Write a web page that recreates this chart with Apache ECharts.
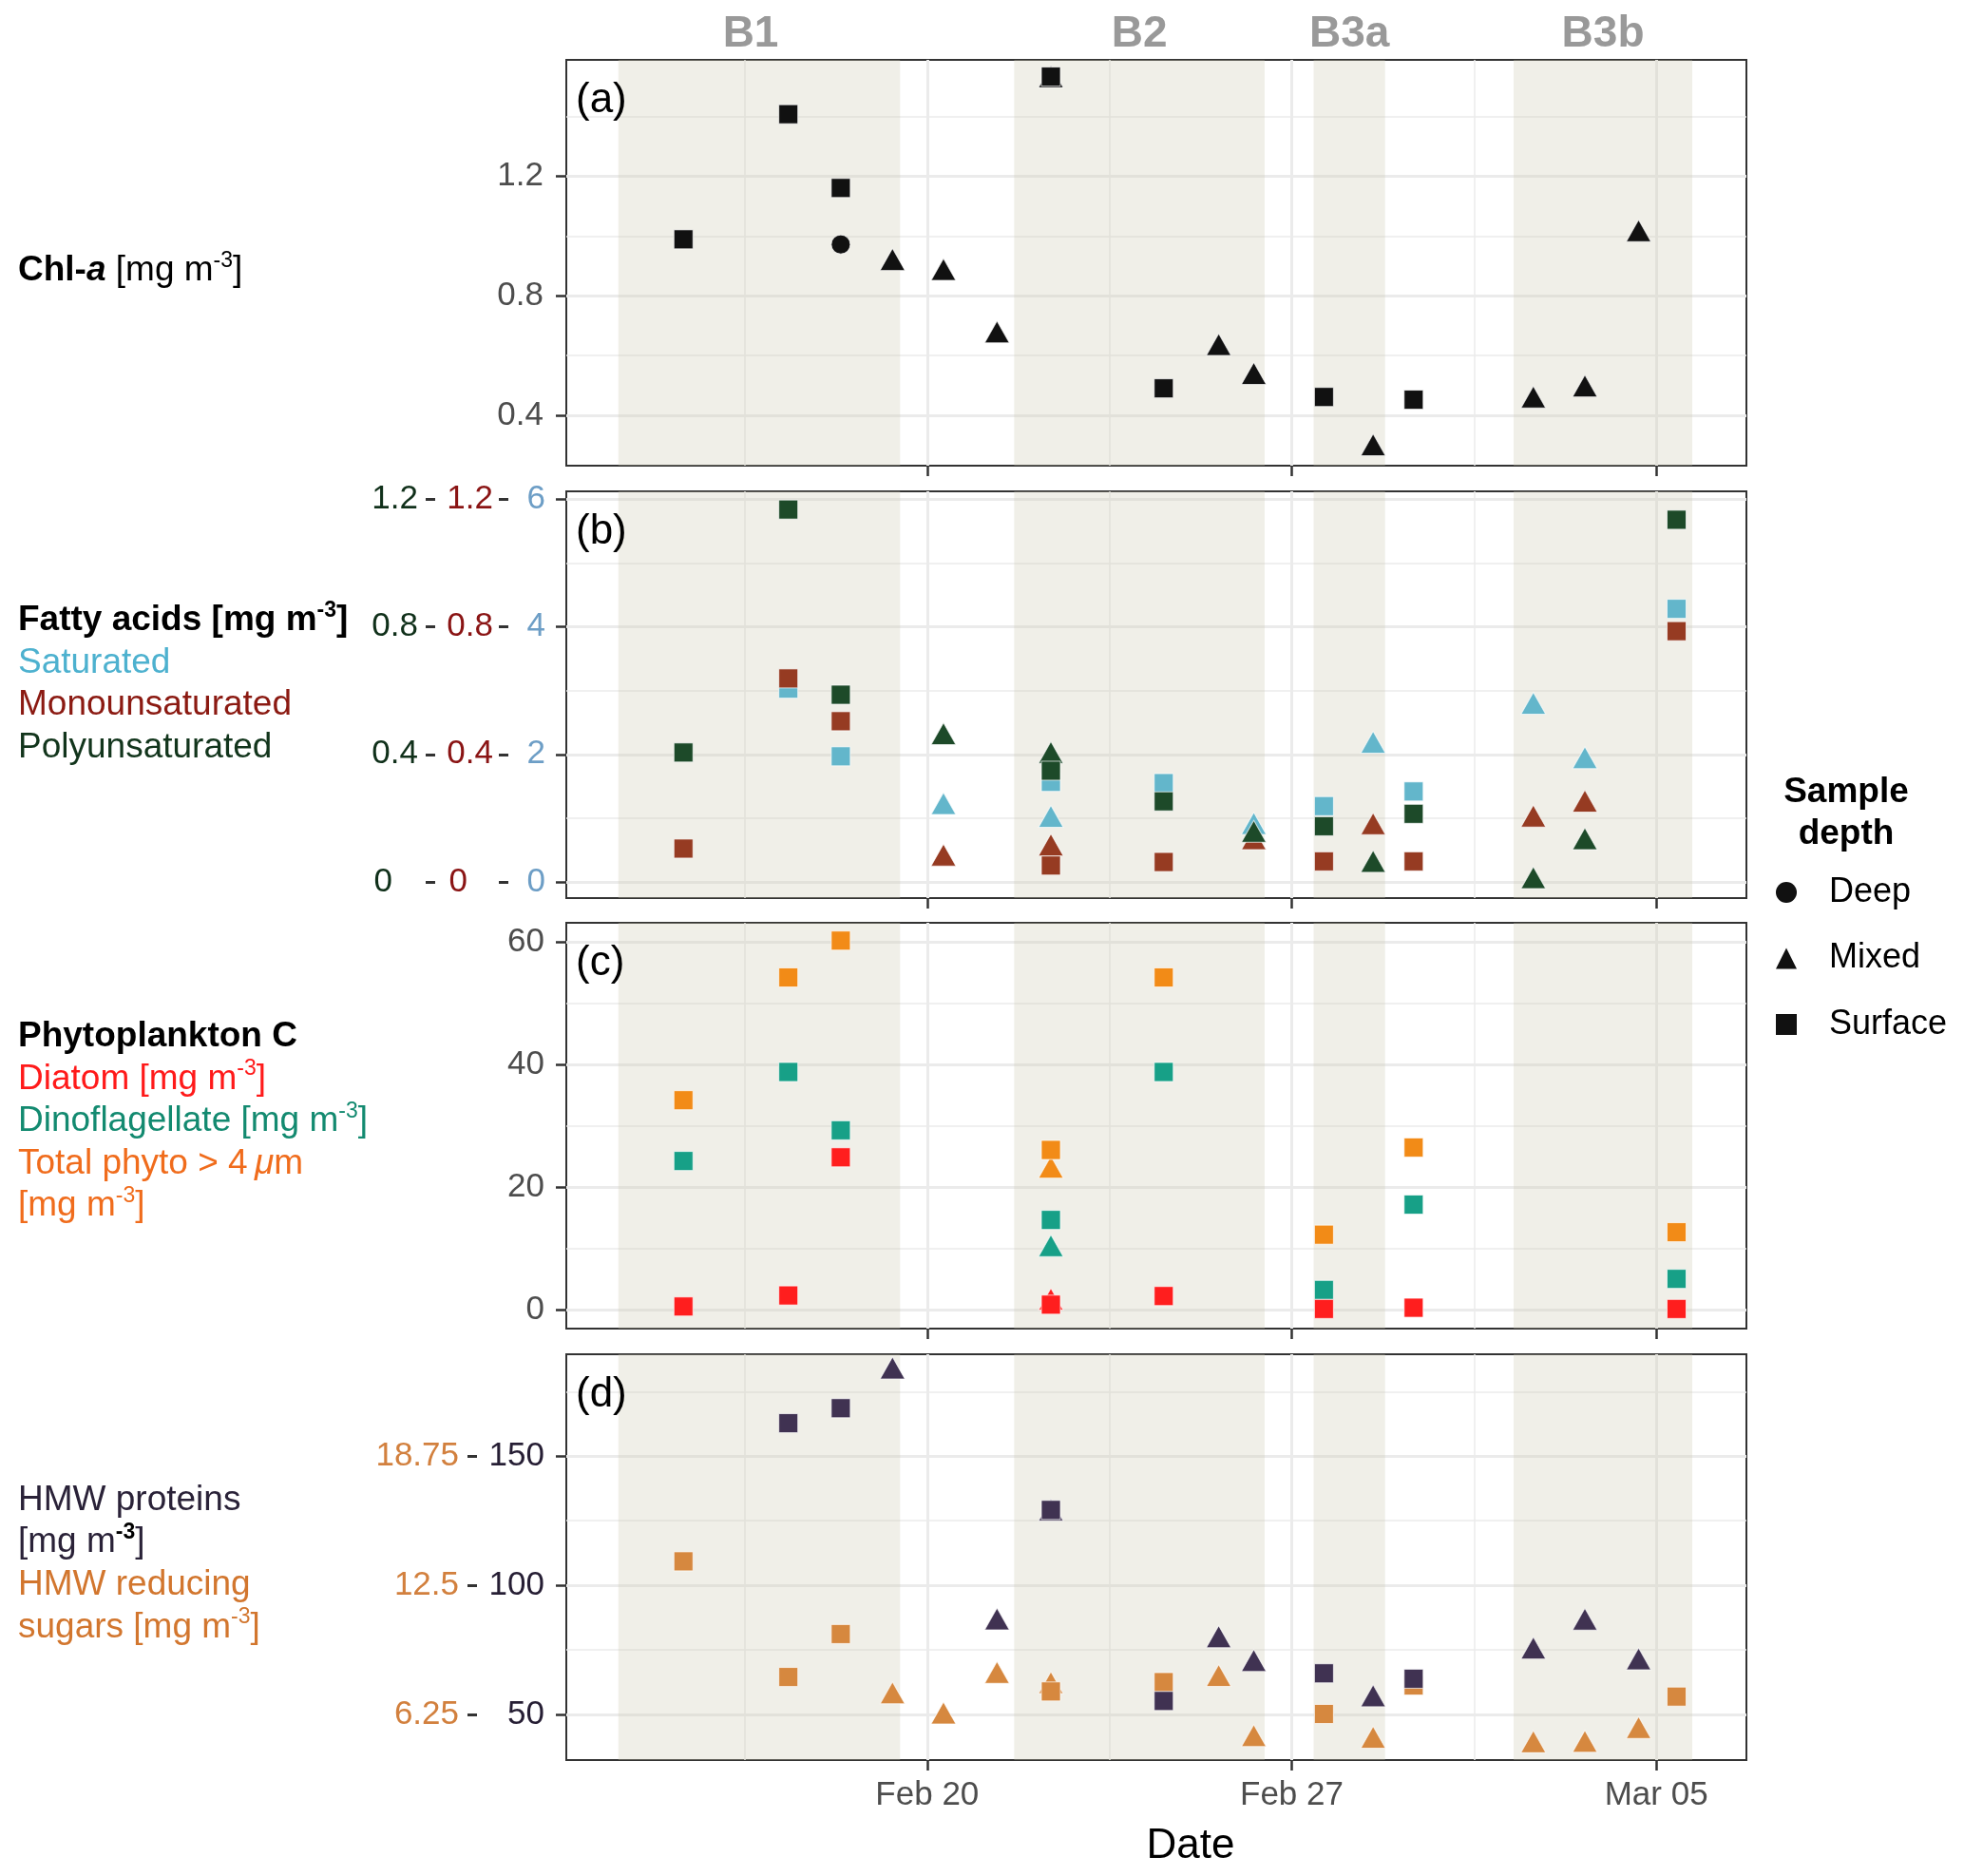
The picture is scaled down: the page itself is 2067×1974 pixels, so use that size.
<!DOCTYPE html>
<html><head><meta charset="utf-8">
<script src="https://cdn.jsdelivr.net/npm/echarts@6/dist/echarts.min.js"></script>
<style>html,body{margin:0;padding:0;background:#fff}#c{width:2067px;height:1974px}</style>
</head><body><div id="c"></div>
<script>
// ---------------- data ----------------
const surfaceDates = ['2020-02-15T07:40Z','2020-02-17T08:00Z','2020-02-18T08:10Z','2020-02-22T09:00Z','2020-02-24T13:00Z','2020-02-27T14:50Z','2020-02-29T08:10Z','2020-03-05T09:20Z'];
const mixedDates = ['2020-02-19T08:00Z','2020-02-20T07:30Z','2020-02-21T08:10Z','2020-02-22T09:00Z','2020-02-25T14:20Z','2020-02-26T06:30Z','2020-02-28T13:30Z','2020-03-02T15:20Z','2020-03-03T15:05Z','2020-03-04T15:50Z'];
const deepDates = ['2020-02-18T08:10Z'];

const chlaSurface = [0.989,1.408,1.161,1.534,0.490,0.461,0.452,null];
const chlaMixed = [0.922,0.888,0.679,1.534,0.637,0.540,0.301,0.461,0.498,1.018];
const chlaDeep = [0.972];

const sfaSurface = [null,3.03,1.97,1.57,1.55,1.19,1.42,4.28];
const sfaMixed = [null,1.23,null,1.03,null,0.92,2.19,2.80,1.95,null];
const mufaSurface = [0.105,0.638,0.504,0.052,0.063,0.065,0.065,0.786];
const mufaMixed = [null,0.085,null,0.117,null,0.136,0.183,0.207,0.254,null];
const pufaSurface = [0.406,1.167,0.587,0.349,0.253,0.175,0.214,1.135];
const pufaMixed = [null,0.465,null,0.406,null,0.159,0.065,0.014,0.136,null];

const diatomSurface = [0.6,2.4,24.9,0.9,2.3,0.2,0.4,0.2];
const diatomMixed = [null,null,null,1.8,null,null,null,null,null,null];
const dinoSurface = [24.3,38.8,29.3,14.7,38.8,3.3,17.2,5.1];
const dinoMixed = [null,null,null,10.5,null,null,null,null,null,null];
const totalSurface = [34.2,54.2,60.2,26.1,54.2,12.3,26.5,12.7];
const totalMixed = [null,null,null,23.3,null,null,null,null,null,null];

const proteinSurface = [null,162.8,168.6,129.2,55.2,65.9,63.8,null];
const proteinMixed = [184.2,null,87.0,129.2,80.1,70.9,57.2,75.7,86.9,71.5];
const sugarSurface = [13.66,8.06,10.14,7.36,7.81,6.27,7.65,7.11];
const sugarMixed = [7.29,6.32,8.28,7.79,8.13,5.22,5.14,4.93,4.95,5.61];

const periodNames = ['B1','B2','B3a','B3b'];
const periodStart = ['2020-02-14T01:40Z','2020-02-21T16:05Z','2020-02-27T10:05Z','2020-03-02T06:15Z'];
const periodEnd = ['2020-02-19T11:30Z','2020-02-26T11:30Z','2020-02-28T19:00Z','2020-03-05T16:35Z'];

const dateTicks = ['2020-02-20T00:00Z','2020-02-27T00:00Z','2020-03-05T00:00Z'];
const dateMinor = ['2020-02-16T12:00Z','2020-02-23T12:00Z','2020-03-01T12:00Z'];
const chlaTicks = [0.4,0.8,1.2];
const chlaMinor = [0.6,1.0,1.4];
const faTicks = [0,0.4,0.8,1.2];
const sfaTicks = [0,2,4,6];
const sfaMinor = [1,3,5];
const phytoTicks = [0,20,40,60];
const phytoMinor = [10,30,50];
const proteinTicks = [50,100,150];
const proteinMinor = [75,125,175];
const sugarTicks = [6.25,12.5,18.75];

// ---------------- helpers ----------------
const FONT = '"Liberation Sans", Arial, Helvetica, sans-serif';
const T0 = Date.UTC(2020,1,20);
const day = s => (Date.parse(s) - T0) / 864e5;
const MON = ['Jan','Feb','Mar','Apr','May','Jun','Jul','Aug','Sep','Oct','Nov','Dec'];
const fmtDate = v => { const d = new Date(T0 + Math.round(v*864e5)); return MON[d.getUTCMonth()] + ' ' + String(d.getUTCDate()).padStart(2,'0'); };
const fmtNum = v => String(Math.round(v*100)/100);
const pts = (dates, vals) => { const o=[]; dates.forEach((d,i)=>{ if (vals[i]!=null) o.push([day(d), vals[i]]); }); return o; };

const X_MIN = -6.93, X_MAX = 15.73;
const GRID_TOPS = [63, 517, 971, 1425];
const GRID_H = [427, 428, 427, 427];
const TICK_COLOR = '#333333';
const GRID_COLOR = '#EBEBEB';

function xAx(g, minor, showLabel) {
  const vals = (minor ? dateMinor : dateTicks).map(day);
  const ax = {
    type:'value', gridIndex:g, min:X_MIN, max:X_MAX,
    axisLine:{show:false, onZero:false},
    axisTick:{show:!minor, length:11, customValues:vals, lineStyle:{color:TICK_COLOR, width:2.5}},
    axisLabel:{show:!minor && showLabel, customValues:vals, formatter:fmtDate, fontSize:35, fontFamily:FONT, color:'#4D4D4D', margin:20},
    splitLine:{show:true, lineStyle:{color:GRID_COLOR, width:minor?1.5:3}}
  };
  if (showLabel && !minor) {
    ax.name = 'Date'; ax.nameLocation = 'middle'; ax.nameGap = 69;
    ax.nameTextStyle = {fontSize:44, fontFamily:FONT, color:'#000', padding:[0,0,0,72]};
  }
  return ax;
}
function yAx(g, min, max, ticks, o) {
  o = o || {};
  return {
    type:'value', gridIndex:g, min, max, position:'left', offset:o.offset||0,
    axisLine:{show:false, onZero:false},
    axisTick:{show:!o.minor, length:o.tickLen||11, customValues:ticks, lineStyle:{color:TICK_COLOR, width:o.tickW||2.5}},
    axisLabel:{show:!o.minor, customValues:ticks, margin:o.margin||24, fontSize:35, fontFamily:FONT, color:o.color||'#4D4D4D', formatter:o.formatter||fmtNum, rich:o.rich},
    splitLine:{show:!!o.split, lineStyle:{color:GRID_COLOR, width:o.minor?1.5:3}}
  };
}
function padZero(color) {
  return {
    color,
    formatter: v => Math.abs(v) < 1e-9 ? '{z|0}' : '{n|' + fmtNum(v) + '}',
    rich: {
      n:{color, fontSize:35, fontFamily:FONT},
      z:{color, fontSize:35, fontFamily:FONT, padding:[0,27,0,0]}
    }
  };
}

const SIZES = {rect:[20,20], triangle:[26,23], circle:[20,20]};
function sc(name, xi, yi, sym, color, data) {
  return {type:'scatter', name, xAxisIndex:xi, yAxisIndex:yi, symbol:sym, symbolSize:SIZES[sym],
    itemStyle:{color, borderColor:'rgba(255,255,255,0.7)', borderWidth:1, opacity:1},
    data, z:3, silent:true, emphasis:{disabled:true}};
}
function shade(g, xi, yi, withLabels) {
  return {type:'scatter', name:'periods'+g, xAxisIndex:xi, yAxisIndex:yi, data:[], silent:true, z:1,
    markArea:{silent:true, z:1, itemStyle:{color:'rgba(205,202,178,0.3)', borderWidth:0},
      label:{show:withLabels, position:'top', distance:4, fontSize:46, lineHeight:46, fontWeight:'bold', color:'#999999', fontFamily:FONT},
      data: periodNames.map((n,i)=>[
        {name:n, xAxis:day(periodStart[i]), label: i===0 ? {offset:[-9,0]} : undefined},
        {xAxis:day(periodEnd[i])}])}};
}

// ---------------- axes ----------------
const xAxes = [];
for (let g=0; g<4; g++) { xAxes.push(xAx(g,false,g===3)); xAxes.push(xAx(g,true,false)); }

const C_PUFA_AX = '#10301A', C_MUFA_AX = '#8A1414', C_SFA_AX = '#6D9EC6';
const C_PROT_AX = '#261E34', C_SUG_AX = '#D2803E';
const yAxes = [
  // panel a
  yAx(0, 0.231, 1.590, chlaTicks, {split:true}),
  yAx(0, 0.231, 1.590, chlaMinor, {split:true, minor:true}),
  // panel b
  yAx(1, -0.25, 6.12, sfaTicks, {split:true, color:C_SFA_AX, margin:22}),
  yAx(1, -0.25, 6.12, sfaMinor, {split:true, minor:true}),
  yAx(1, -0.05, 1.224, faTicks, Object.assign({offset:61, tickLen:10, tickW:3, margin:16}, padZero(C_MUFA_AX))),
  yAx(1, -0.05, 1.224, faTicks, Object.assign({offset:138, tickLen:10, tickW:3, margin:18}, padZero(C_PUFA_AX))),
  // panel c
  yAx(2, -3.0, 63.1, phytoTicks, {split:true, margin:23}),
  yAx(2, -3.0, 63.1, phytoMinor, {split:true, minor:true}),
  // panel d
  yAx(3, 32.3, 189.5, proteinTicks, {split:true, color:C_PROT_AX, margin:23}),
  yAx(3, 32.3, 189.5, proteinMinor, {split:true, minor:true}),
  yAx(3, 32.3/8, 189.5/8, sugarTicks, {offset:94, tickLen:10, tickW:3, margin:19, color:C_SUG_AX})
];

// ---------------- series ----------------
const C_CHLA='#111111', C_SFA='#63B6CB', C_MUFA='#963B22', C_PUFA='#1D4A29';
const C_DIA='#FF1E1E', C_DINO='#17A087', C_TOT='#F28B17';
const C_PROT='#403252', C_SUG='#D6883F';
const series = [
  shade(0,0,0,true),
  sc('Mixed',0,0,'triangle',C_CHLA,pts(mixedDates,chlaMixed)),
  sc('Surface',0,0,'rect',C_CHLA,pts(surfaceDates,chlaSurface)),
  sc('Deep',0,0,'circle',C_CHLA,pts(deepDates,chlaDeep)),

  shade(1,2,2,false),
  sc('Saturated mixed',2,2,'triangle',C_SFA,pts(mixedDates,sfaMixed)),
  sc('Saturated surface',2,2,'rect',C_SFA,pts(surfaceDates,sfaSurface)),
  sc('Monounsaturated mixed',2,4,'triangle',C_MUFA,pts(mixedDates,mufaMixed)),
  sc('Monounsaturated surface',2,4,'rect',C_MUFA,pts(surfaceDates,mufaSurface)),
  sc('Polyunsaturated mixed',2,5,'triangle',C_PUFA,pts(mixedDates,pufaMixed)),
  sc('Polyunsaturated surface',2,5,'rect',C_PUFA,pts(surfaceDates,pufaSurface)),

  shade(2,4,6,false),
  sc('Total mixed',4,6,'triangle',C_TOT,pts(mixedDates,totalMixed)),
  sc('Total surface',4,6,'rect',C_TOT,pts(surfaceDates,totalSurface)),
  sc('Dino mixed',4,6,'triangle',C_DINO,pts(mixedDates,dinoMixed)),
  sc('Dino surface',4,6,'rect',C_DINO,pts(surfaceDates,dinoSurface)),
  sc('Diatom mixed',4,6,'triangle',C_DIA,pts(mixedDates,diatomMixed)),
  sc('Diatom surface',4,6,'rect',C_DIA,pts(surfaceDates,diatomSurface)),

  shade(3,6,8,false),
  sc('Sugar mixed',6,10,'triangle',C_SUG,pts(mixedDates,sugarMixed)),
  sc('Sugar surface',6,10,'rect',C_SUG,pts(surfaceDates,sugarSurface)),
  sc('Protein mixed',6,8,'triangle',C_PROT,pts(mixedDates,proteinMixed)),
  sc('Protein surface',6,8,'rect',C_PROT,pts(surfaceDates,proteinSurface))
];

// ---------------- texts ----------------
const LH = 44.5;
const tok = (color, extra) => Object.assign({color, fontSize:37, lineHeight:LH, fontFamily:FONT, fontWeight:'normal', fontStyle:'normal'}, extra||{});
const sup = (color, extra) => Object.assign({color, fontSize:23, lineHeight:34, verticalAlign:'top', fontFamily:FONT, fontWeight:'normal', fontStyle:'normal'}, extra||{});
const baseStyle = (lh) => ({fontFamily:FONT, fontSize:37, lineHeight:lh||LH, fontWeight:'normal', fontStyle:'normal', color:'#000'});

const titles = [
  {left:19, top:263, padding:0,
   text:'{b|Chl-}{bi|a}{n| [mg m}{s|-3}{n|]}',
   textStyle:Object.assign(baseStyle(), {rich:{
     b:tok('#000',{fontWeight:'bold'}), bi:tok('#000',{fontWeight:'bold', fontStyle:'italic'}),
     n:tok('#000'), s:sup('#000')}})},
  {left:19, top:631, padding:0,
   text:'{fb|Fatty acids [mg m}{fs|-3}{fb|]}\n{sat|Saturated}\n{mono|Monounsaturated}\n{poly|Polyunsaturated}',
   textStyle:Object.assign(baseStyle(), {rich:{
     fb:tok('#000',{fontWeight:'bold'}), fs:sup('#000',{fontWeight:'bold'}),
     sat:tok('#4DB1CF'), mono:tok('#8B1A12'), poly:tok('#12351C')}})},
  {left:19, top:1069, padding:0,
   text:'{pb|Phytoplankton C}\n{dia|Diatom [mg m}{dias|-3}{dia|]}\n{din|Dinoflagellate [mg m}{dins|-3}{din|]}\n{tot|Total phyto > 4\u2009}{toti|\u03bc}{tot|m}\n{tot|[mg m}{tots|-3}{tot|]}',
   textStyle:Object.assign(baseStyle(), {rich:{
     pb:tok('#000',{fontWeight:'bold'}),
     dia:tok('#FF1A1A'), dias:sup('#FF1A1A'),
     din:tok('#138A70'), dins:sup('#138A70'),
     tot:tok('#F06C1C'), toti:tok('#F06C1C',{fontStyle:'italic'}), tots:sup('#F06C1C')}})},
  {left:19, top:1556, padding:0,
   text:'{pr|HMW proteins}\n{pr|[mg m}{prs|-3}{pr|]}\n{su|HMW reducing}\n{su|sugars [mg m}{sus|-3}{su|]}',
   textStyle:Object.assign(baseStyle(44.8), {rich:{
     pr:tok('#2A2238',{lineHeight:44.8}), prs:sup('#000',{fontWeight:'bold'}),
     su:tok('#D2762E',{lineHeight:44.8}), sus:sup('#D2762E')}})},
  {left:1943, top:812, padding:0, textAlign:'center', text:'Sample\ndepth',
   textStyle:{fontFamily:FONT, fontSize:37, fontWeight:'bold', lineHeight:44, color:'#000'}}
];
['(a)','(b)','(c)','(d)'].forEach((t,i)=>{
  titles.push({left:606, top:GRID_TOPS[i]+18, padding:0, text:t,
    textStyle:{fontFamily:FONT, fontSize:44, fontWeight:'normal', lineHeight:50, color:'#000'}});
});

const option = {
  animation:false,
  backgroundColor:'#ffffff',
  title: titles,
  legend: {orient:'vertical', left:1869, top:919, padding:0, itemWidth:22, itemHeight:22, itemGap:29.5,
    selectedMode:false,
    data:[{name:'Deep', icon:'circle'},{name:'Mixed', icon:'triangle'},{name:'Surface', icon:'rect'}],
    itemStyle:{borderWidth:0},
    textStyle:{fontSize:36, fontFamily:FONT, color:'#000', lineHeight:40, padding:[0,0,0,29]}},
  grid: GRID_TOPS.map((t,i)=>({left:596, right:229, top:t, height:GRID_H[i], show:true, borderColor:'#333333', borderWidth:2, backgroundColor:'#ffffff'})),
  xAxis: xAxes,
  yAxis: yAxes,
  series
};
const chart = echarts.init(document.getElementById('c'), null, {renderer:'canvas', width:2067, height:1974});
chart.setOption(option);
</script></body></html>
